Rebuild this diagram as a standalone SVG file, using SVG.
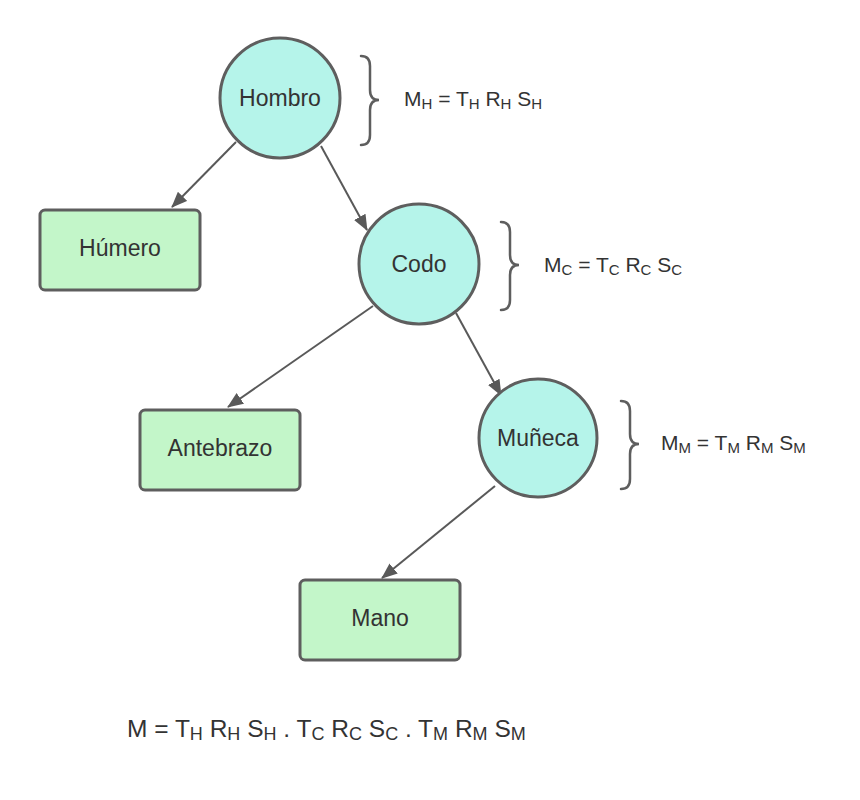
<svg xmlns="http://www.w3.org/2000/svg" width="860" height="800" viewBox="0 0 860 800">
<defs>
<style>
.circ{fill:#b5f4ea;stroke:#5e5e5e;stroke-width:3}
.box{fill:#c3f6c9;stroke:#5e5e5e;stroke-width:3}
.lbl{font-family:"Liberation Sans",Arial,sans-serif;font-size:23px;fill:#333;text-anchor:middle;dominant-baseline:central}
.edge{stroke:#595959;stroke-width:2;fill:none;marker-end:url(#ah)}
.brace{stroke:#5e5e5e;stroke-width:2.5;fill:none;stroke-linecap:round}
.eq{font-family:"Liberation Sans",Arial,sans-serif;font-size:21px;fill:#333}
.eqb{font-family:"Liberation Sans",Arial,sans-serif;font-size:24.5px;fill:#333}
.sub{font-size:15px}
.subb{font-size:18px}
</style>
<marker id="ah" viewBox="0 0 16 13" refX="15" refY="6.5" markerWidth="16" markerHeight="13" markerUnits="userSpaceOnUse" orient="auto">
<path d="M0,0 L16,6.5 L0,13 z" fill="#595959"/>
</marker>
</defs>
<rect width="860" height="800" fill="#fff"/>
<g id="connectors">
<line class="edge" x1="236" y1="142" x2="172" y2="207"/>
<line class="edge" x1="321" y1="146" x2="367" y2="230"/>
<line class="edge" x1="373" y1="306" x2="228" y2="407"/>
<line class="edge" x1="456" y1="313" x2="501" y2="395"/>
<line class="edge" x1="495" y1="486" x2="382" y2="578"/>
</g>
<g id="hombro"><circle class="circ" cx="280" cy="98" r="60"/><text class="lbl" x="280" y="98">Hombro</text></g>
<g id="humero"><rect class="box" x="40" y="210" width="160" height="80" rx="5"/><text class="lbl" x="120" y="248">Húmero</text></g>
<g id="codo"><circle class="circ" cx="419" cy="264" r="60"/><text class="lbl" x="419" y="264">Codo</text></g>
<g id="antebrazo"><rect class="box" x="140" y="410" width="160" height="80" rx="5"/><text class="lbl" x="220" y="448">Antebrazo</text></g>
<g id="muneca"><circle class="circ" cx="538" cy="438" r="59"/><text class="lbl" x="538" y="438">Muñeca</text></g>
<g id="mano"><rect class="box" x="300" y="580" width="160" height="80" rx="5"/><text class="lbl" x="380" y="618">Mano</text></g>
<g id="brace-h"><path class="brace" d="M361,56 Q370,56 370,66 L370,90 Q370,100 379,100 Q370,100 370,110 L370,135 Q370,145 361,145"/></g>
<g id="brace-c"><path class="brace" d="M501,222 Q510,222 510,232 L510,255 Q510,265 519,265 Q510,265 510,275 L510,300 Q510,310 501,310"/></g>
<g id="brace-m"><path class="brace" d="M621,401 Q630,401 630,411 L630,434 Q630,444 639,444 Q630,444 630,454 L630,479 Q630,489 621,489"/></g>
<g id="eq-h"><text class="eq" x="404" y="106">M<tspan class="sub" dy="3">H</tspan><tspan dy="-3"> = T</tspan><tspan class="sub" dy="3">H</tspan><tspan dy="-3"> R</tspan><tspan class="sub" dy="3">H</tspan><tspan dy="-3"> S</tspan><tspan class="sub" dy="3">H</tspan></text></g>
<g id="eq-c"><text class="eq" x="544" y="272">M<tspan class="sub" dy="3">C</tspan><tspan dy="-3"> = T</tspan><tspan class="sub" dy="3">C</tspan><tspan dy="-3"> R</tspan><tspan class="sub" dy="3">C</tspan><tspan dy="-3"> S</tspan><tspan class="sub" dy="3">C</tspan></text></g>
<g id="eq-m"><text class="eq" x="661" y="450">M<tspan class="sub" dy="3">M</tspan><tspan dy="-3"> = T</tspan><tspan class="sub" dy="3">M</tspan><tspan dy="-3"> R</tspan><tspan class="sub" dy="3">M</tspan><tspan dy="-3"> S</tspan><tspan class="sub" dy="3">M</tspan></text></g>
<g id="eq-total"><text class="eqb" x="127" y="737">M = T<tspan class="subb" dy="3">H</tspan><tspan dy="-3"> R</tspan><tspan class="subb" dy="3">H</tspan><tspan dy="-3"> S</tspan><tspan class="subb" dy="3">H</tspan><tspan dy="-3"> . T</tspan><tspan class="subb" dy="3">C</tspan><tspan dy="-3"> R</tspan><tspan class="subb" dy="3">C</tspan><tspan dy="-3"> S</tspan><tspan class="subb" dy="3">C</tspan><tspan dy="-3"> . T</tspan><tspan class="subb" dy="3">M</tspan><tspan dy="-3"> R</tspan><tspan class="subb" dy="3">M</tspan><tspan dy="-3"> S</tspan><tspan class="subb" dy="3">M</tspan></text></g>
</svg>
